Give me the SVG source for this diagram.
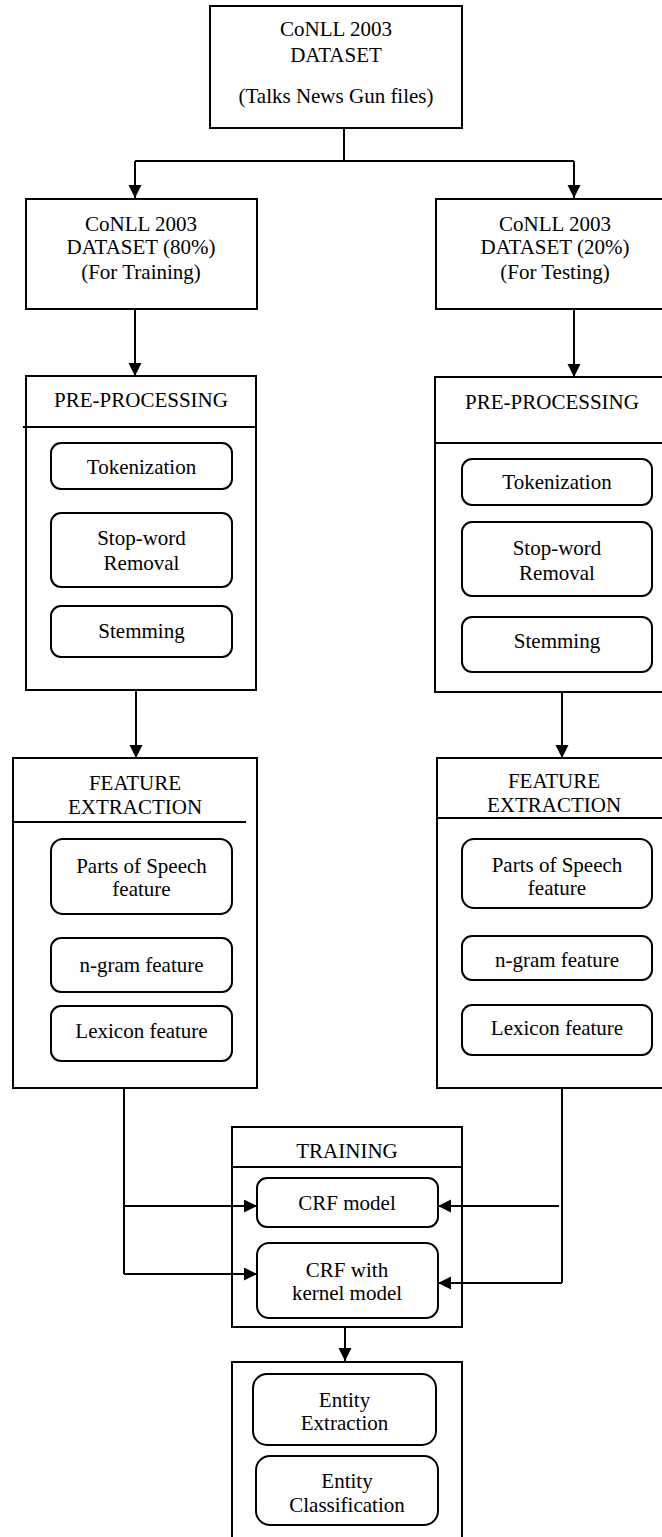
<svg xmlns="http://www.w3.org/2000/svg" width="662" height="1537" viewBox="0 0 662 1537">
<style>
.box{fill:#fff;stroke:#000;stroke-width:2}
.rbox{fill:#fff;stroke:#000;stroke-width:2}
.sep{stroke:#000;stroke-width:2;fill:none}
.t{font-family:"Liberation Serif","Times New Roman",serif;font-size:21px;fill:#000;text-anchor:middle}
.c{stroke:#000;stroke-width:2;fill:none}
.a{stroke:#000;stroke-width:2;fill:none;marker-end:url(#arr)}
</style>
<defs>
<marker id="arr" markerUnits="userSpaceOnUse" markerWidth="14" markerHeight="14" refX="13" refY="6.5" orient="auto">
<path d="M0,0 L13,6.5 L0,13 z" fill="#000"/>
</marker>
</defs>
<rect width="662" height="1537" fill="#fff"/>

<g id="dataset">
<rect class="box" x="210" y="6" width="252" height="122"/>
<text class="t" x="336" y="36">CoNLL 2003</text>
<text class="t" x="336" y="62">DATASET</text>
<text class="t" x="336" y="103">(Talks News Gun files)</text>
</g>

<g id="train-data">
<rect class="box" x="26" y="199" width="231" height="110"/>
<text class="t" x="141" y="231">CoNLL 2003</text>
<text class="t" x="141" y="254">DATASET (80%)</text>
<text class="t" x="141" y="279">(For Training)</text>
</g>

<g id="test-data">
<rect class="box" x="436" y="199" width="238" height="110"/>
<text class="t" x="555" y="231">CoNLL 2003</text>
<text class="t" x="555" y="254">DATASET (20%)</text>
<text class="t" x="555" y="279">(For Testing)</text>
</g>

<g id="preproc-left">
<rect class="box" x="26" y="376" width="230" height="314"/>
<path class="sep" d="M23,427 H256"/>
<text class="t" x="141" y="407">PRE-PROCESSING</text>
<rect class="rbox" x="51" y="443" width="181" height="46" rx="10"/>
<text class="t" x="141.5" y="474">Tokenization</text>
<rect class="rbox" x="51" y="513" width="181" height="74" rx="10"/>
<text class="t" x="141.5" y="545">Stop-word</text>
<text class="t" x="141.5" y="570">Removal</text>
<rect class="rbox" x="51" y="606" width="181" height="51" rx="10"/>
<text class="t" x="141.5" y="638">Stemming</text>
</g>

<g id="preproc-right">
<rect class="box" x="435" y="377" width="239" height="315"/>
<path class="sep" d="M435,443 H674"/>
<text class="t" x="552" y="409">PRE-PROCESSING</text>
<rect class="rbox" x="462" y="459" width="190" height="46" rx="10"/>
<text class="t" x="557" y="489">Tokenization</text>
<rect class="rbox" x="462" y="522" width="190" height="74" rx="10"/>
<text class="t" x="557" y="555">Stop-word</text>
<text class="t" x="557" y="580">Removal</text>
<rect class="rbox" x="462" y="617" width="190" height="55" rx="10"/>
<text class="t" x="557" y="648">Stemming</text>
</g>

<g id="feature-left">
<rect class="box" x="13" y="758" width="244" height="330"/>
<path class="sep" d="M13,822 H246"/>
<text class="t" x="135" y="790">FEATURE</text>
<text class="t" x="135" y="814">EXTRACTION</text>
<rect class="rbox" x="51" y="839" width="181" height="75" rx="12"/>
<text class="t" x="141.5" y="873">Parts of Speech</text>
<text class="t" x="141.5" y="896">feature</text>
<rect class="rbox" x="51" y="938" width="181" height="54" rx="10"/>
<text class="t" x="141.5" y="972">n-gram feature</text>
<rect class="rbox" x="51" y="1006" width="181" height="55" rx="10"/>
<text class="t" x="141.5" y="1038">Lexicon feature</text>
</g>

<g id="feature-right">
<rect class="box" x="437" y="758" width="237" height="330"/>
<path class="sep" d="M437,818 H674"/>
<text class="t" x="554" y="788">FEATURE</text>
<text class="t" x="554" y="812">EXTRACTION</text>
<rect class="rbox" x="462" y="839" width="190" height="69" rx="12"/>
<text class="t" x="557" y="872">Parts of Speech</text>
<text class="t" x="557" y="895">feature</text>
<rect class="rbox" x="462" y="936" width="190" height="44" rx="10"/>
<text class="t" x="557" y="967">n-gram feature</text>
<rect class="rbox" x="462" y="1005" width="190" height="50" rx="10"/>
<text class="t" x="557" y="1035">Lexicon feature</text>
</g>

<g id="training">
<rect class="box" x="232" y="1127" width="230" height="200"/>
<path class="sep" d="M232,1167 H462"/>
<text class="t" x="347" y="1158">TRAINING</text>
<rect class="rbox" x="257" y="1178" width="181" height="49" rx="10"/>
<text class="t" x="347" y="1210">CRF model</text>
<rect class="rbox" x="257" y="1243" width="181" height="75" rx="12"/>
<text class="t" x="347" y="1277">CRF with</text>
<text class="t" x="347" y="1300">kernel model</text>
</g>

<g id="output">
<rect class="box" x="232" y="1362" width="230" height="190"/>
<rect class="rbox" x="253" y="1374" width="183" height="71" rx="14"/>
<text class="t" x="344.5" y="1407">Entity</text>
<text class="t" x="344.5" y="1430">Extraction</text>
<rect class="rbox" x="256" y="1456" width="182" height="69" rx="14"/>
<text class="t" x="347" y="1488">Entity</text>
<text class="t" x="347" y="1512">Classification</text>
</g>

<g id="connectors">
<path class="c" d="M344,128 V161 M135,161 H574"/>
<path class="a" d="M135,161 V198"/>
<path class="a" d="M574,161 V198"/>
<path class="a" d="M135,309 V376"/>
<path class="a" d="M574,309 V377"/>
<path class="a" d="M136,690 V758"/>
<path class="a" d="M562,692 V758"/>
<path class="c" d="M124,1088 V1274"/>
<path class="a" d="M124,1206 H257"/>
<path class="a" d="M124,1274 H257"/>
<path class="c" d="M562,1088 V1283"/>
<path class="a" d="M559,1206 H438"/>
<path class="a" d="M562,1283 H438"/>
<path class="a" d="M345,1327 V1361"/>
</g>
</svg>
